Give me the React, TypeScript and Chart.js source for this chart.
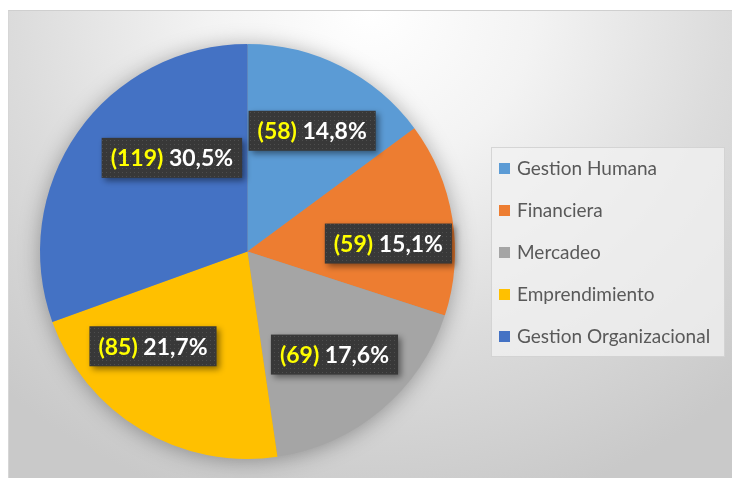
import React, { useEffect, useRef } from "react";
import { Chart, registerables } from "chart.js";

Chart.register(...registerables);

const CATEGORIES = ["Gestion Humana", "Financiera", "Mercadeo", "Emprendimiento", "Gestion Organizacional"];
const COUNTS = [58, 59, 69, 85, 119];
const PERCENT_LABELS = ["14,8%", "15,1%", "17,6%", "21,7%", "30,5%"];
const COLORS = ["#5B9BD5", "#ED7D31", "#A5A5A5", "#FFC000", "#4472C4"];

// label placement style (angle shift in degrees from slice middle, radius fraction)
const LABEL_ANGLE_SHIFT = [1.4, 6, 0, 14, 16];
const LABEL_RADIUS = [0.66, 0.68, 0.65, 0.645, 0.58];

const W = 724;
const H = 468;
const FONT = "Lato, 'Open Sans', sans-serif";

function makePattern(ctx: CanvasRenderingContext2D) {
  const c = document.createElement("canvas");
  c.width = 4;
  c.height = 4;
  const p = c.getContext("2d")!;
  p.fillStyle = "#383838";
  p.fillRect(0, 0, 4, 4);
  p.fillStyle = "#4e4e4e";
  p.fillRect(1, 1, 1, 1);
  return ctx.createPattern(c, "repeat");
}

const pieShadow = {
  id: "pieShadow",
  beforeDatasetsDraw(chart: any) {
    const arc = chart.getDatasetMeta(0).data[0];
    if (!arc) return;
    const ctx = chart.ctx;
    ctx.save();
    ctx.shadowColor = "rgba(0,0,0,0.35)";
    ctx.shadowBlur = 22;
    ctx.shadowOffsetX = 0;
    ctx.shadowOffsetY = 2;
    ctx.fillStyle = "#999";
    ctx.beginPath();
    ctx.arc(arc.x, arc.y, arc.outerRadius - 1, 0, Math.PI * 2);
    ctx.fill();
    ctx.restore();
  },
};

const sliceLabels = {
  id: "sliceLabels",
  afterDatasetsDraw(chart: any) {
    const ctx: CanvasRenderingContext2D = chart.ctx;
    const meta = chart.getDatasetMeta(0);
    const pattern = makePattern(ctx);
    meta.data.forEach((arc: any, i: number) => {
      const mid = (arc.startAngle + arc.endAngle) / 2 + (LABEL_ANGLE_SHIFT[i] * Math.PI) / 180;
      const r = arc.outerRadius * LABEL_RADIUS[i];
      const cx = arc.x + Math.cos(mid) * r;
      const cy = arc.y + Math.sin(mid) * r;
      const a = "(" + COUNTS[i] + ")";
      const b = PERCENT_LABELS[i];
      ctx.save();
      ctx.font = "bold 23px " + FONT;
      const wa = ctx.measureText(a).width;
      const ws = ctx.measureText(" ").width;
      const wb = ctx.measureText(b).width;
      const tw = wa + ws + wb;
      const bw = tw + 18;
      const bh = 40;
      const x0 = cx - bw / 2;
      const y0 = cy - bh / 2;
      ctx.shadowColor = "rgba(0,0,0,0.45)";
      ctx.shadowBlur = 6;
      ctx.shadowOffsetX = 3;
      ctx.shadowOffsetY = 3;
      ctx.fillStyle = pattern || "#383838";
      ctx.fillRect(x0, y0, bw, bh);
      ctx.shadowColor = "transparent";
      ctx.textBaseline = "middle";
      ctx.textAlign = "left";
      ctx.fillStyle = "#FFFF00";
      ctx.fillText(a, cx - tw / 2, cy + 1);
      ctx.fillStyle = "#FFFFFF";
      ctx.fillText(b, cx - tw / 2 + wa + ws, cy + 1);
      ctx.restore();
    });
  },
};

const customLegend = {
  id: "customLegend",
  afterDraw(chart: any) {
    const ctx: CanvasRenderingContext2D = chart.ctx;
    const bx = 482, by = 136, bw = 234, bh = 210;
    ctx.save();
    ctx.fillStyle = "rgba(242,242,242,0.75)";
    ctx.fillRect(bx, by, bw, bh);
    ctx.strokeStyle = "rgba(205,205,205,0.8)";
    ctx.lineWidth = 1;
    ctx.strokeRect(bx + 0.5, by + 0.5, bw - 1, bh - 1);
    ctx.font = "19px " + FONT;
    ctx.textBaseline = "middle";
    const labels: string[] = chart.data.labels;
    const colors: string[] = chart.data.datasets[0].backgroundColor;
    labels.forEach((lab, i) => {
      const y = by + 21 + i * 42;
      ctx.fillStyle = colors[i];
      ctx.fillRect(bx + 8, y - 5, 11, 11);
      ctx.fillStyle = "#595959";
      ctx.fillText(lab, bx + 26, y + 1);
    });
    ctx.restore();
  },
};

export default function App() {
  const ref = useRef<HTMLCanvasElement>(null);
  useEffect(() => {
    if (!ref.current) return;
    const chart = new Chart(ref.current, {
      type: "pie",
      data: {
        labels: CATEGORIES,
        datasets: [
          {
            data: COUNTS,
            backgroundColor: COLORS,
            borderWidth: 0,
          },
        ],
      },
      options: {
        responsive: false,
        animation: false,
        devicePixelRatio: 1,
        layout: { padding: { left: 31, right: 277, top: 33, bottom: 19 } },
        plugins: {
          legend: { display: false },
          tooltip: { enabled: false },
        },
      },
      plugins: [pieShadow, sliceLabels, customLegend],
    });
    return () => chart.destroy();
  }, []);
  return (
    <div
      style={{
        position: "fixed",
        left: 8,
        top: 10,
        width: W,
        height: H,
        boxSizing: "border-box",
        borderTop: "1px solid #cfcfcf",
        borderLeft: "1px solid #d6d6d6",
        background:
          "radial-gradient(ellipse 75% 110% at 50% 0%, #ffffff 0%, #f3f3f3 30%, #dcdcdc 65%, #c9c9c9 100%)",
        overflow: "hidden",
      }}
    >
      <canvas ref={ref} width={W - 1} height={H - 1} style={{ display: "block" }} />
    </div>
  );
}
